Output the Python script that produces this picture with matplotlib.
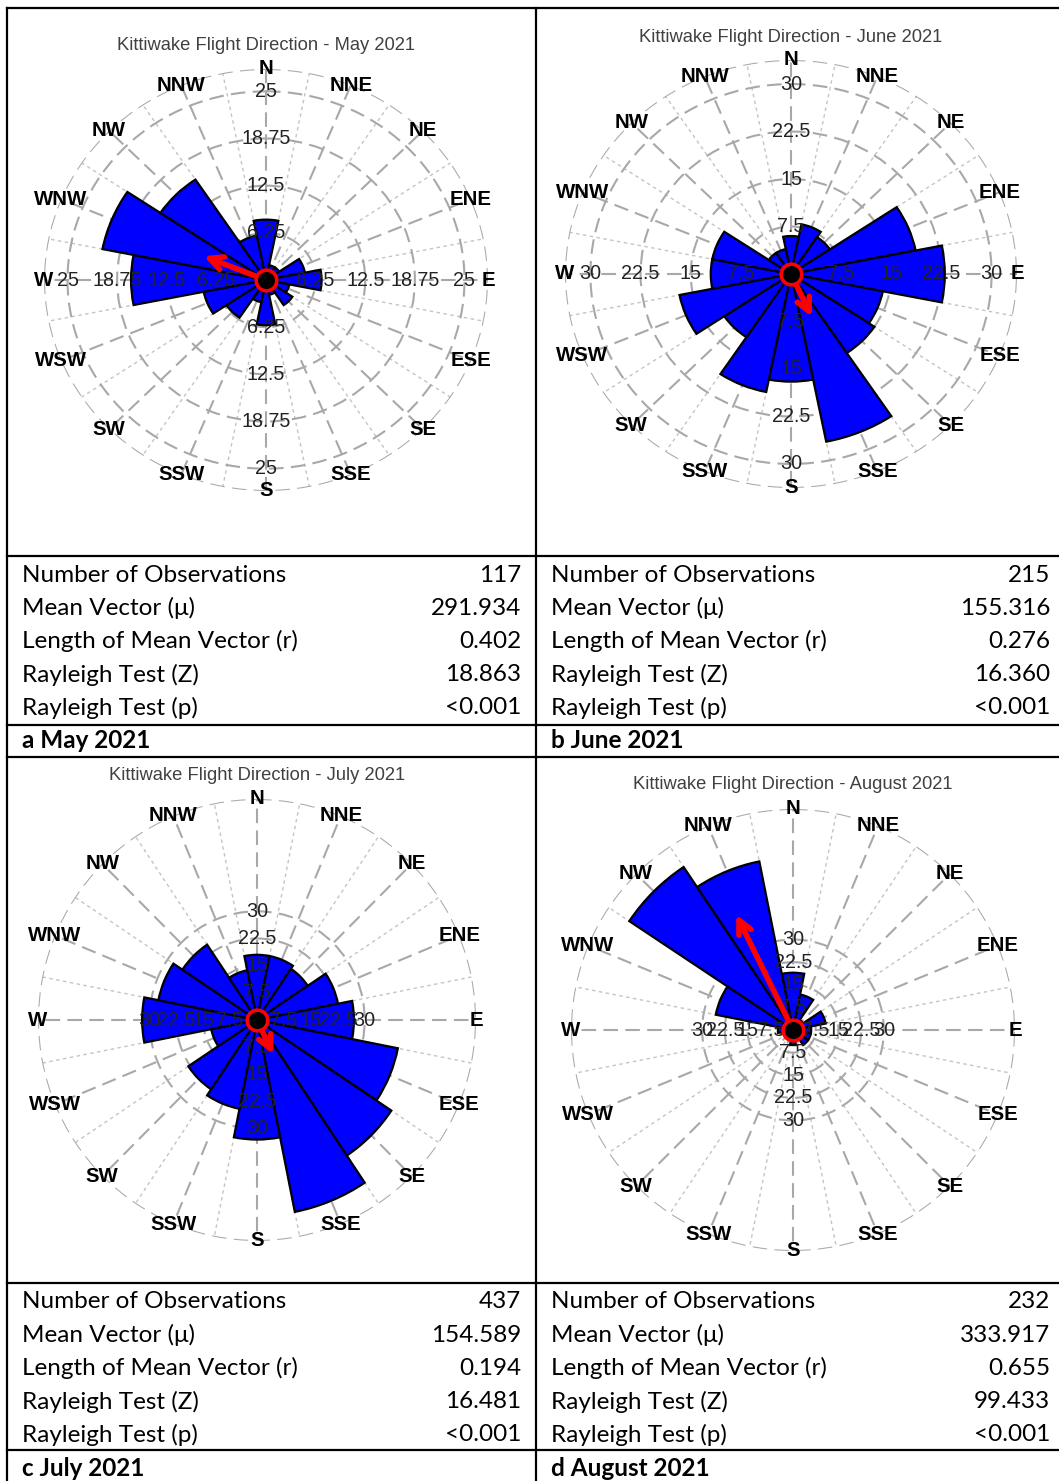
import numpy as np
import matplotlib.pyplot as plt
from matplotlib.lines import Line2D

W, H = 1059, 1481

compass = ['N', 'NNE', 'NE', 'ENE', 'E', 'ESE', 'SE', 'SSE',
           'S', 'SSW', 'SW', 'WSW', 'W', 'WNW', 'NW', 'NNW']

# counts per 22.5 degree sector, starting at N going clockwise
may_counts = [8, 2, 2, 5, 7, 3, 4, 2, 6, 3, 6, 8, 17, 21, 16, 6]
june_counts = [6, 8, 7, 19, 23, 14, 15, 27, 17, 19, 12, 17, 12, 12, 4, 4]
july_counts = [18, 18, 17, 23, 27, 40, 45, 54, 33, 25, 23, 13, 32, 28, 25, 14]
august_counts = [19, 12, 4, 11, 6, 6, 6, 3, 5, 2, 2, 3, 5, 26, 65, 57]

may_rings = [6.25, 12.5, 18.75, 25]
june_rings = [7.5, 15, 22.5, 30]
july_rings = [7.5, 15, 22.5, 30]
august_rings = [7.5, 15, 22.5, 30]

stat_names = ['Number of Observations', 'Mean Vector (μ)', 'Length of Mean Vector (r)',
              'Rayleigh Test (Z)', 'Rayleigh Test (p)']
n_obs = [117, 215, 437, 232]
mean_dir = [291.934, 155.316, 154.589, 333.917]
mean_len = [0.402, 0.276, 0.194, 0.655]
rayleigh_z = [18.863, 16.360, 16.481, 99.433]
rayleigh_p = ['<0.001', '<0.001', '<0.001', '<0.001']
months = ['May 2021', 'June 2021', 'July 2021', 'August 2021']
letters = ['a', 'b', 'c', 'd']

chart_font = 'Liberation Sans'
table_font = ['Lato', 'DejaVu Sans']

fig = plt.figure(figsize=(W / 100, H / 100), dpi=100)


def fx(x):
    return x / W


def fy(y):
    return 1 - y / H


def draw_rose(cx, cy, rh, rv, outer, counts, rings, title, title_y, mdir, mlen):
    ax = fig.add_axes([fx(cx - rh), fy(cy + rv), 2 * rh / W, 2 * rv / H],
                      projection='polar')
    ax.set_aspect('auto')
    ax.set_theta_zero_location('N')
    ax.set_theta_direction(-1)
    ax.set_ylim(0, outer)
    ax.spines['polar'].set_visible(False)
    ax.patch.set_alpha(0)

    major = np.deg2rad(np.arange(16) * 22.5)
    minor = major + np.deg2rad(11.25)
    ax.set_xticks(major)
    ax.set_xticks(minor, minor=True)
    ax.set_xticklabels([])
    ax.tick_params(axis='x', which='both', length=0)
    ax.set_yticks(list(rings) + [outer])
    ax.set_yticklabels([])
    ax.xaxis.grid(True, which='major', color='#a8a8a8', lw=1.5, ls=(0, (7, 3.5)))
    ax.xaxis.grid(True, which='minor', color='#c4c4c4', lw=1.0, ls=(0, (2.5, 2.5)))
    ax.yaxis.grid(True, color='#a8a8a8', lw=1.5, ls=(0, (7, 3.5)))
    ax.set_axisbelow(True)

    ax.bar(major, counts, width=np.deg2rad(22.5), color='#0000ff',
           edgecolor='black', linewidth=1.6, zorder=2)

    for ang in [0, 90, 180, 270]:
        for rv_ in rings:
            ax.text(np.deg2rad(ang), rv_, '%g' % rv_, ha='center', va='center',
                    fontsize=14.2, color='#222222', family=chart_font, zorder=4)

    for ang, lab in zip(major, compass):
        ax.text(ang, outer, lab, ha='center', va='center', fontsize=14.7,
                fontweight='bold', color='black', family=chart_font, zorder=4,
                clip_on=False)

    # mean vector, scaled to the longest petal
    tip = mlen * max(counts)
    ax.annotate('', xy=(np.deg2rad(mdir), tip), xytext=(0, 0),
                arrowprops=dict(arrowstyle='->', color='#ff0000', lw=4,
                                mutation_scale=24, shrinkA=0, shrinkB=0),
                zorder=5)
    ax.scatter([0], [0], s=220, facecolor='black', edgecolor='#ff0000',
               linewidth=2.6, zorder=6, clip_on=False)

    fig.text(fx(cx), fy(title_y), title, ha='center', va='center',
             fontsize=13.2, color='#404040', family=chart_font)


draw_rose(266, 280, 222, 211, 27.96, may_counts, may_rings,
          'Kittiwake Flight Direction - May 2021', 46, mean_dir[0], mean_len[0])
draw_rose(791, 274, 226, 214, 33.8, june_counts, june_rings,
          'Kittiwake Flight Direction - June 2021', 37, mean_dir[1], mean_len[1])
draw_rose(257, 1020, 219, 221, 61.0, july_counts, july_rings,
          'Kittiwake Flight Direction - July 2021', 775, mean_dir[2], mean_len[2])
draw_rose(793, 1030, 222, 221, 73.3, august_counts, august_rings,
          'Kittiwake Flight Direction - August 2021', 785, mean_dir[3], mean_len[3])


# table grid
def hline(y, x0=7, x1=W):
    fig.add_artist(Line2D([fx(x0), fx(x1)], [fy(y), fy(y)], color='black', lw=1.6))


def vline(x, y0=8, y1=H):
    fig.add_artist(Line2D([fx(x), fx(x)], [fy(y0), fy(y1)], color='black', lw=1.6))


for y in [8, 556, 725, 757, 1283, 1450]:
    hline(y)
for x in [7, 536]:
    vline(x)

row_tops = [556, 1283]
for i in range(4):
    col = i % 2
    top = row_tops[i // 2]
    xl = 22 if col == 0 else 551
    xr = 521 if col == 0 else 1050
    vals = [str(n_obs[i]), '%.3f' % mean_dir[i], '%.3f' % mean_len[i],
            '%.3f' % rayleigh_z[i], rayleigh_p[i]]
    for k, (name, val) in enumerate(zip(stat_names, vals)):
        y = top + 19 + k * 33.2
        fig.text(fx(xl), fy(y), name, ha='left', va='center', fontsize=17.5,
                 family=table_font, color='black')
        fig.text(fx(xr), fy(y), val, ha='right', va='center', fontsize=17.5,
                 family=table_font, color='black')
    fig.text(fx(xl), fy(top + 185), letters[i] + ' ' + months[i], ha='left',
             va='center', fontsize=17.5, fontweight='bold', family=table_font,
             color='black')

fig.savefig('out.png', dpi=100)
